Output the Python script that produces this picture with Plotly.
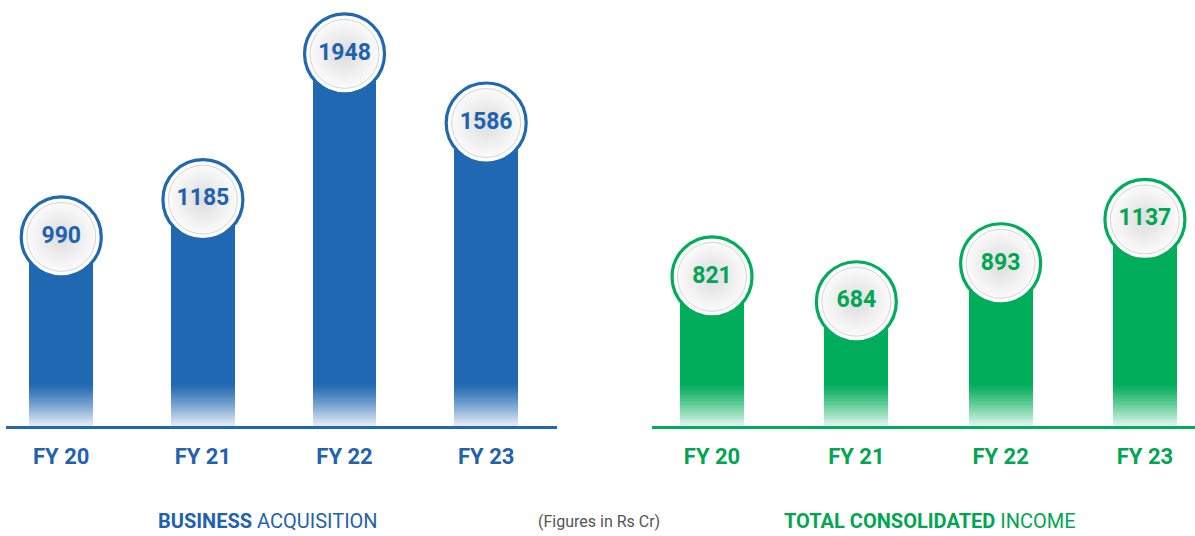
import plotly.graph_objects as go

categories = ["FY 20", "FY 21", "FY 22", "FY 23"]
business_acquisition = [990, 1185, 1948, 1586]
consolidated_income = [821, 684, 893, 1137]

BLUE = "#2068b2"
BLUE_TXT = "#1f63ae"
GREEN = "#00ad5b"
GREEN_TXT = "#00a651"
FONT = "Roboto, Open Sans, sans-serif"

W, H = 1195, 536
base_px = 426
ydom0 = (H - base_px) / H

panels = [
    dict(vals=business_acquisition, color=BLUE, txt=BLUE_TXT, xa="x", ya="y",
         xdom=[6 / W, 557 / W], xr=[-0.39, 3.5], yr=[0, 2230], bw=0.45),
    dict(vals=consolidated_income, color=GREEN, txt=GREEN_TXT, xa="x2", ya="y2",
         xdom=[652 / W, 1.0], xr=[-0.416, 3.347], yr=[0, 2345], bw=0.444),
]

fig = go.Figure()
N = 30
fade_frac = 42 / base_px
for p in panels:
    fig.add_trace(go.Bar(x=categories, y=p["vals"], marker=dict(color=p["color"], line=dict(width=0)),
                         width=p["bw"], xaxis=p["xa"], yaxis=p["ya"], hoverinfo="skip", showlegend=False))
    fade_h = p["yr"][1] * fade_frac
    seg = fade_h / N
    for k in range(N):
        t = k / N
        alpha = 0.88 * (1 - t) ** 1.2
        fig.add_trace(go.Bar(x=categories, y=[seg * 1.02] * 4, base=[seg * k] * 4,
                             marker=dict(color=f"rgba(255,255,255,{alpha:.3f})", line=dict(width=0)),
                             width=p["bw"], xaxis=p["xa"], yaxis=p["ya"], hoverinfo="skip", showlegend=False))
    # outer ring
    fig.add_trace(go.Scatter(x=categories, y=p["vals"], mode="markers",
                             marker=dict(size=80, color="white", line=dict(color=p["color"], width=3.2)),
                             xaxis=p["xa"], yaxis=p["ya"], hoverinfo="skip", showlegend=False, cliponaxis=False))
    # inner disk
    fig.add_trace(go.Scatter(x=categories, y=p["vals"], mode="markers+text",
                             text=[f"<b>{v}</b>" for v in p["vals"]], textposition="middle center",
                             textfont=dict(family=FONT, size=23, color=p["txt"]),
                             marker=dict(size=69, color="#fbfbfb",
                                         gradient=dict(type="radial", color="#dcdcde"),
                                         line=dict(color="#d4d4d6", width=1)),
                             xaxis=p["xa"], yaxis=p["ya"], hoverinfo="skip", showlegend=False, cliponaxis=False))

layout_axes = {}
for i, p in enumerate(panels):
    sx = "xaxis" if i == 0 else "xaxis2"
    sy = "yaxis" if i == 0 else "yaxis2"
    layout_axes[sx] = dict(domain=p["xdom"], range=p["xr"], type="category", anchor=p["ya"],
                           showgrid=False, zeroline=False, showline=True, linecolor=p["color"], linewidth=3,
                           ticks="", ticklabelstandoff=9,
                           tickfont=dict(family=FONT, size=22, color=p["txt"]),
                           tickvals=categories, ticktext=[f"<b>{c}</b>" for c in categories], fixedrange=True)
    layout_axes[sy] = dict(domain=[ydom0, 1], range=p["yr"], anchor=p["xa"], visible=False, fixedrange=True)

fig.update_layout(
    width=W, height=H, margin=dict(l=0, r=0, t=0, b=0),
    paper_bgcolor="white", plot_bgcolor="white", barmode="overlay", bargap=0,
    showlegend=False, **layout_axes,
    annotations=[
        dict(text="<b>BUSINESS</b> ACQUISITION", x=268 / W, y=(H - 521) / H, xref="paper", yref="paper",
             showarrow=False, xanchor="center", yanchor="middle",
             font=dict(family=FONT, size=20, color=BLUE_TXT)),
        dict(text="(Figures in Rs Cr)", x=599 / W, y=(H - 521) / H, xref="paper", yref="paper",
             showarrow=False, xanchor="center", yanchor="middle",
             font=dict(family=FONT, size=16, color="#555555")),
        dict(text="<b>TOTAL CONSOLIDATED</b> INCOME", x=930 / W, y=(H - 521) / H, xref="paper", yref="paper",
             showarrow=False, xanchor="center", yanchor="middle",
             font=dict(family=FONT, size=20, color=GREEN_TXT)),
    ],
)

fig.write_html("out.html", config={"displayModeBar": False, "staticPlot": True},
               post_script="document.body.style.margin='0';document.body.style.overflow='hidden';")
